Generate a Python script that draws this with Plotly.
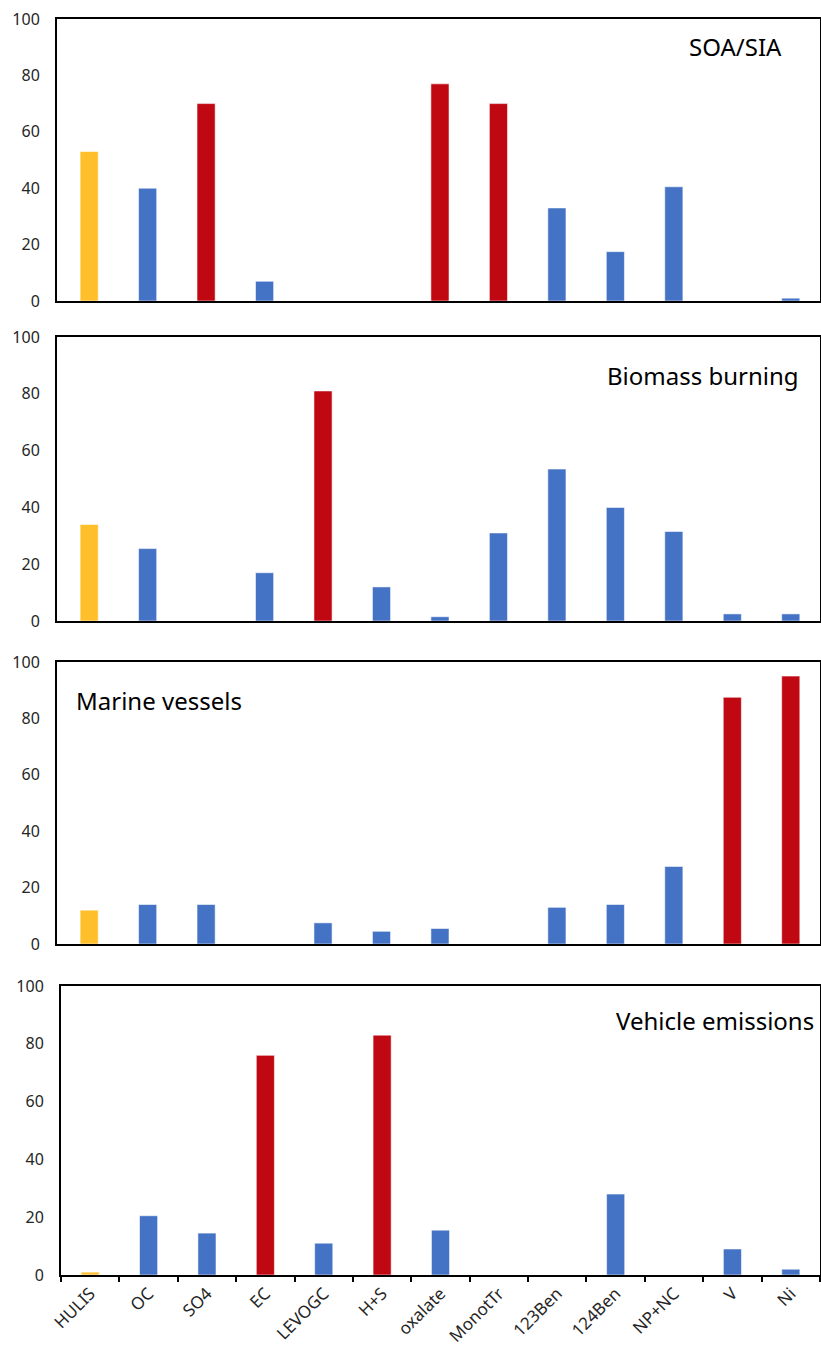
import plotly.graph_objects as go

categories = ["HULIS", "OC", "SO4", "EC", "LEVOGC", "H+S", "oxalate",
              "MonotTr", "123Ben", "124Ben", "NP+NC", "V", "Ni"]

soa_sia = [53, 40, 70, 7, 0, 0, 77, 70, 33, 17.5, 40.5, 0, 1]
biomass_burning = [34, 25.5, 0, 17, 81, 12, 1.5, 31, 53.5, 40, 31.5, 2.5, 2.5]
marine_vessels = [12, 14, 14, 0, 7.5, 4.5, 5.5, 0, 13, 14, 27.5, 87.5, 95]
vehicle_emissions = [1, 20.5, 14.5, 76, 11, 83, 15.5, 0, 0, 28, 0, 9, 2]

panel_titles = ["SOA/SIA", "Biomass burning", "Marine vessels", "Vehicle emissions"]
highlight_soa = ["SO4", "oxalate", "MonotTr"]
highlight_biomass = ["LEVOGC"]
highlight_marine = ["V", "Ni"]
highlight_vehicle = ["EC", "H+S"]

y_ticks = [0, 20, 40, 60, 80, 100]

YELLOW = "#FFBF2B"
BLUE = "#4472C4"
RED = "#C00812"

W, H = 821, 1357
FONT = "Noto Sans"

panels = [
    (soa_sia, highlight_soa, (19, 301), 57, -0.55),
    (biomass_burning, highlight_biomass, (337, 621), 57, -0.55),
    (marine_vessels, highlight_marine, (662, 944), 57, -0.55),
    (vehicle_emissions, highlight_vehicle, (986, 1275), 61, -0.5),
]

fig = go.Figure()
layout = {}
for i, (vals, hl, (top, bot), left, xstart) in enumerate(panels):
    n = i + 1
    xa = "x" if n == 1 else f"x{n}"
    ya = "y" if n == 1 else f"y{n}"
    colors = []
    for c in categories:
        if c == "HULIS":
            colors.append(YELLOW)
        elif c in hl:
            colors.append(RED)
        else:
            colors.append(BLUE)
    fig.add_trace(go.Bar(
        x=categories, y=vals, xaxis=xa, yaxis=ya,
        marker=dict(color=colors, line=dict(color="rgba(255,255,255,0.55)", width=1)),
        width=0.31, showlegend=False,
    ))
    last = (n == 4)
    layout[f"xaxis{'' if n == 1 else n}"] = dict(
        domain=[left / W, 820 / W],
        anchor=ya,
        type="category",
        categoryorder="array", categoryarray=categories,
        range=[xstart, len(categories) - 0.5],
        showline=True, linecolor="black", linewidth=2, mirror=True,
        showgrid=False, zeroline=False,
        showticklabels=last,
        ticks="outside" if last else "",
        tickson="boundaries",
        ticklen=5, tickwidth=2, tickcolor="black",
        tickangle=-45,
        tickfont=dict(family=FONT, size=17, color="#262626"),
        automargin=False,
    )
    layout[f"yaxis{'' if n == 1 else n}"] = dict(
        domain=[1 - bot / H, 1 - top / H],
        anchor=xa,
        range=[0, 100],
        tickvals=y_ticks,
        showline=True, linecolor="black", linewidth=2, mirror=True,
        showgrid=False, zeroline=False,
        ticks="", ticklabelstandoff=12,
        tickfont=dict(family=FONT, size=16, color="#262626"),
        automargin=False,
    )

annotations = [
    dict(text=panel_titles[0], x=784 / W, y=1 - 47 / H, xanchor="right"),
    dict(text=panel_titles[1], x=801 / W, y=1 - 375 / H, xanchor="right"),
    dict(text=panel_titles[2], x=74 / W, y=1 - 700 / H, xanchor="left"),
    dict(text=panel_titles[3], x=816 / W, y=1 - 1020 / H, xanchor="right"),
]
for a in annotations:
    a.update(xref="paper", yref="paper", yanchor="middle", showarrow=False,
             font=dict(family=FONT, size=24, color="black"))

fig.update_layout(
    width=W, height=H,
    margin=dict(l=0, r=0, t=0, b=0),
    paper_bgcolor="white", plot_bgcolor="white",
    annotations=annotations,
    **layout,
)

fig.write_html("out.html")
